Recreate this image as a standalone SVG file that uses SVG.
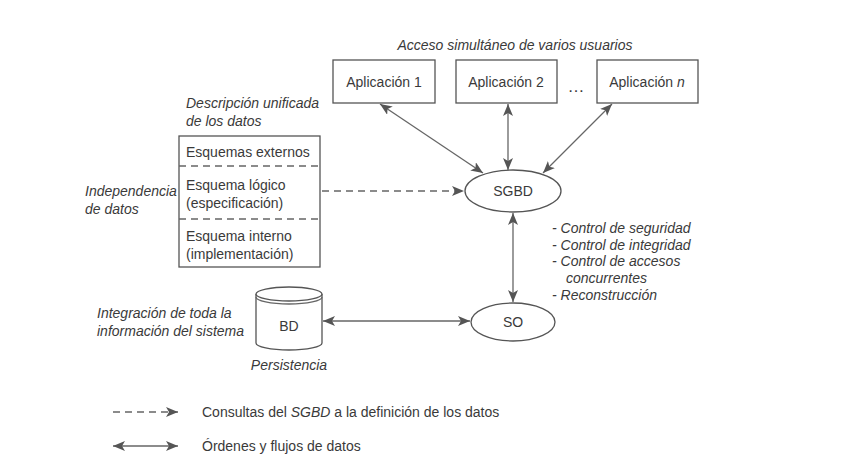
<svg xmlns="http://www.w3.org/2000/svg" width="866" height="470" viewBox="0 0 866 470">
<defs>
<marker id="ah" viewBox="0 0 12 10" refX="12" refY="5" markerWidth="12" markerHeight="10" markerUnits="userSpaceOnUse" orient="auto-start-reverse">
<path d="M0,0 L12,5 L0,10 L3,5 Z" fill="#555"/>
</marker>
</defs>
<style>
text{font-family:"Liberation Sans",Arial,sans-serif;font-size:14px;fill:#3a3a3a}
.i{font-style:italic}
.box{fill:#fff;stroke:#555;stroke-width:1.3}
.ln{stroke:#666;stroke-width:1.3;fill:none}
.dash{stroke:#666;stroke-width:1.3;fill:none;stroke-dasharray:7,5}
</style>
<rect width="866" height="470" fill="#fff"/>
<text class="i" x="515" y="50" text-anchor="middle">Acceso simultáneo de varios usuarios</text>
<g id="app1"><rect class="box" x="333" y="60" width="102" height="43"/><text x="384" y="87" text-anchor="middle">Aplicación 1</text></g>
<g id="app2"><rect class="box" x="456" y="60" width="101" height="43"/><text x="506" y="87" text-anchor="middle">Aplicación 2</text></g>
<text x="576" y="92" text-anchor="middle" style="font-size:17px">…</text>
<g id="appn"><rect class="box" x="597" y="60" width="101" height="43"/><text x="647" y="87" text-anchor="middle">Aplicación <tspan class="i">n</tspan></text></g>
<text class="i" x="186" y="108">Descripción unificada</text>
<text class="i" x="186" y="126">de los datos</text>
<g id="schemas">
<rect class="box" x="179" y="136" width="141" height="131"/>
<line class="dash" x1="179" y1="166" x2="320" y2="166"/>
<line class="dash" x1="179" y1="219" x2="320" y2="219"/>
<text x="186" y="157">Esquemas externos</text>
<text x="186" y="190">Esquema lógico</text>
<text x="186" y="208">(especificación)</text>
<text x="186" y="241">Esquema interno</text>
<text x="186" y="259">(implementación)</text>
</g>
<text class="i" x="85" y="196">Independencia</text>
<text class="i" x="85" y="214">de datos</text>
<g id="sgbd"><ellipse class="box" cx="513" cy="191" rx="48" ry="21"/><text x="513" y="196" text-anchor="middle">SGBD</text></g>
<g id="so"><ellipse class="box" cx="513" cy="322" rx="42" ry="19"/><text x="513" y="327" text-anchor="middle">SO</text></g>
<g id="bd">
<path class="box" d="M256,294 L256,343 A33,7 0 0 0 322,343 L322,294"/>
<ellipse class="box" cx="289" cy="294" rx="33" ry="7"/>
<path class="ln" d="M256,297 A33,7 0 0 0 322,297"/>
<text x="289" y="331" text-anchor="middle">BD</text>
</g>
<text class="i" x="289" y="370" text-anchor="middle">Persistencia</text>
<text class="i" x="97" y="318">Integración de toda la</text>
<text class="i" x="97" y="336">información del sistema</text>
<g class="i">
<text x="552" y="233">- Control de seguridad</text>
<text x="552" y="250">- Control de integridad</text>
<text x="552" y="266">- Control de accesos</text>
<text x="566" y="283">concurrentes</text>
<text x="552" y="300">- Reconstrucción</text>
</g>
<g id="connectors">
<line class="ln" x1="380" y1="104" x2="483" y2="173" marker-start="url(#ah)" marker-end="url(#ah)"/>
<line class="ln" x1="508" y1="104" x2="508" y2="170" marker-start="url(#ah)" marker-end="url(#ah)"/>
<line class="ln" x1="612" y1="104" x2="543" y2="173" marker-start="url(#ah)" marker-end="url(#ah)"/>
<line class="dash" x1="322" y1="191" x2="464" y2="191" marker-end="url(#ah)"/>
<line class="ln" x1="513" y1="213" x2="513" y2="302" marker-start="url(#ah)" marker-end="url(#ah)"/>
<line class="ln" x1="323" y1="321" x2="470" y2="321" marker-start="url(#ah)" marker-end="url(#ah)"/>
<line class="dash" x1="113" y1="412" x2="178" y2="412" marker-end="url(#ah)"/>
<line class="ln" x1="113" y1="446" x2="178" y2="446" marker-start="url(#ah)" marker-end="url(#ah)"/>
</g>
<text x="202" y="417">Consultas del <tspan class="i">SGBD</tspan> a la definición de los datos</text>
<text x="202" y="451">Órdenes y flujos de datos</text>
</svg>
